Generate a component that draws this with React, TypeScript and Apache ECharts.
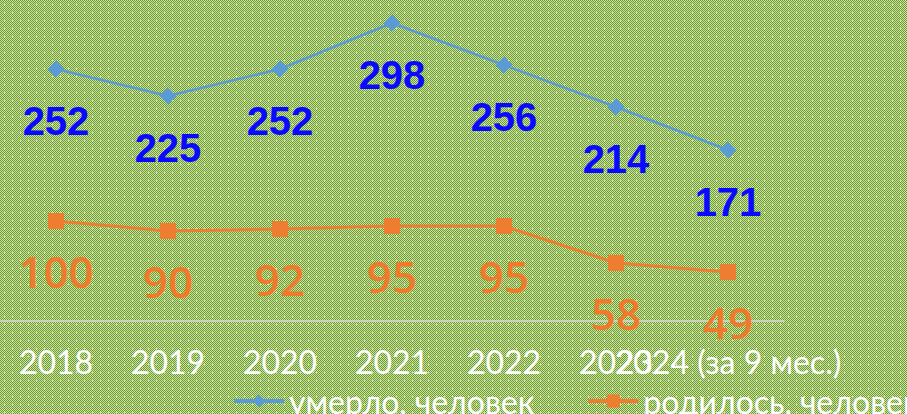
import React, { useEffect, useRef } from "react";
import * as echarts from "echarts";

const categories = ["2018", "2019", "2020", "2021", "2022", "2023", "2024 (за 9 мес.)"];
const diedValues = [252, 225, 252, 298, 256, 214, 171];
const bornValues = [100, 90, 92, 95, 95, 58, 49];
const seriesNames = ["умерло, человек", "родилось, человек"];

function makeTile(): string {
  const dark = "#6a983a";
  const light = "#cfe69a";
  let rects = "";
  for (let y = 0; y < 8; y++) {
    for (let x = 0; x < 8; x++) {
      const isCross = (x === 4 && y >= 3 && y <= 5) || (y === 4 && x >= 3 && x <= 5);
      if ((x + y) % 2 === 0 && !isCross) rects += `<rect x='${x}' y='${y}' width='1' height='1' fill='${dark}'/>`;
    }
  }
  const svg = `<svg xmlns='http://www.w3.org/2000/svg' width='8' height='8' shape-rendering='crispEdges'><rect width='8' height='8' fill='${light}'/>${rects}</svg>`;
  return `url("data:image/svg+xml;utf8,${encodeURIComponent(svg)}")`;
}

export default function App() {
  const ref = useRef<HTMLDivElement>(null);
  useEffect(() => {
    if (!ref.current) return;
    const chart = echarts.init(ref.current, undefined, { renderer: "svg" });
    chart.setOption({
      animation: false,
      backgroundColor: "transparent",
      grid: { left: 0, top: 21, width: 784, height: 300 },
      xAxis: {
        type: "category",
        data: categories,
        boundaryGap: true,
        axisLine: { lineStyle: { color: "#d9d9d9", width: 1.5 } },
        axisTick: { show: false },
        axisLabel: { color: "#ffffff", fontSize: 32, fontFamily: "Lato", margin: 24, interval: 0 },
      },
      yAxis: { type: "value", min: 0, max: 300, show: false, splitLine: { show: false } },
      legend: {
        left: 232,
        top: 385,
        width: 1200,
        padding: 0,
        itemWidth: 50,
        itemHeight: 16,
        itemGap: 52,
        lineStyle: { width: 4 },
        textStyle: { color: "#ffffff", fontSize: 32, fontFamily: "Lato" },
        data: seriesNames,
      },
      series: [
        {
          name: seriesNames[0],
          type: "line",
          data: diedValues,
          symbol: "diamond",
          symbolSize: 17,
          lineStyle: { color: "#5b9bd5", width: 2.5 },
          itemStyle: { color: "#5b9bd5" },
          label: {
            show: true,
            position: "bottom",
            distance: 23,
            color: "#0a0aff",
            fontSize: 40,
            fontWeight: "bold",
            fontFamily: "Liberation Sans",
          },
        },
        {
          name: seriesNames[1],
          type: "line",
          data: bornValues,
          symbol: "rect",
          symbolSize: 16,
          lineStyle: { color: "#ed7d31", width: 3 },
          itemStyle: { color: "#ed7d31" },
          label: {
            show: true,
            position: "bottom",
            distance: 20,
            color: "#ef7a2c",
            fontSize: 44,
            fontWeight: 600,
            fontFamily: "Open Sans",
          },
        },
      ],
    });
    return () => chart.dispose();
  }, []);
  return (
    <div
      style={{
        position: "absolute",
        left: 0,
        top: 0,
        width: 907,
        height: 414,
        overflow: "hidden",
        backgroundImage: makeTile(),
        backgroundRepeat: "repeat",
      }}
    >
      <div ref={ref} style={{ width: 907, height: 414 }} />
    </div>
  );
}
